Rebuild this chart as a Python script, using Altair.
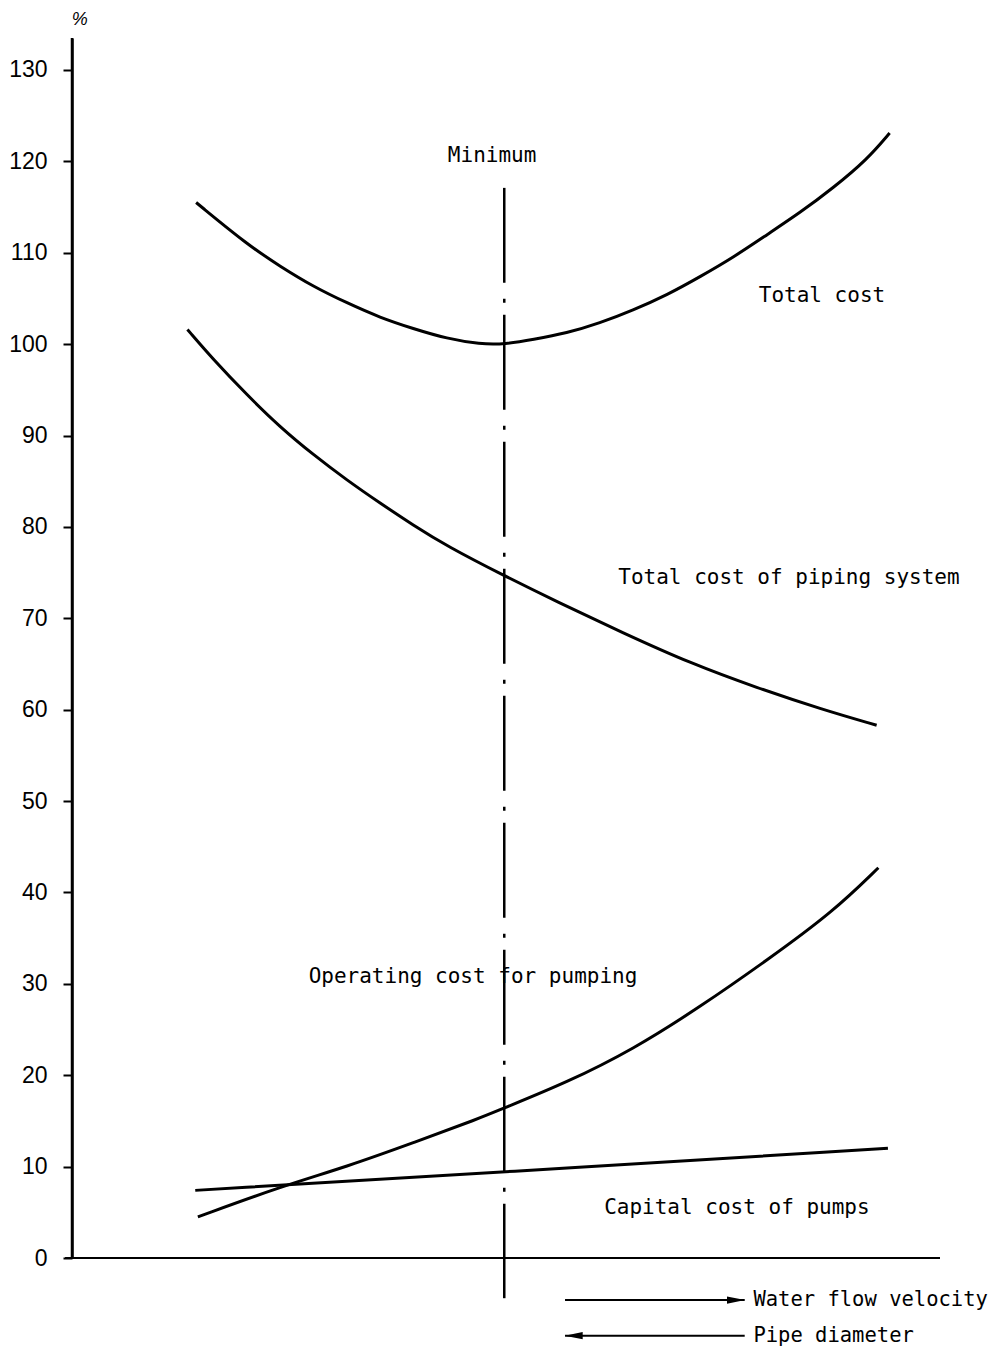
import altair as alt
import pandas as pd

# ---- data (x in arbitrary velocity units 0-100, y in %) ----
total_x = [14.3, 20.2, 24.0, 27.8, 31.7, 35.5, 39.3, 43.2, 47.0, 49.9, 53.1, 57.0,
           60.8, 64.6, 68.6, 72.4, 76.2, 80.1, 83.9, 87.7, 91.6, 94.2]
total_y = [115.5, 110.9, 108.5, 106.3, 104.5, 102.9, 101.7, 100.6, 100.0, 100.0, 100.5, 101.2,
           102.3, 103.7, 105.4, 107.4, 109.5, 112.0, 114.4, 117.1, 120.2, 123.1]

piping_x = [13.3, 16.2, 20.2, 24.0, 27.8, 31.7, 35.5, 39.3, 43.2, 49.7, 55.9, 63.5, 71.2, 78.9, 86.5, 92.7]
piping_y = [101.6, 98.4, 94.4, 90.9, 87.9, 85.1, 82.6, 80.2, 77.9, 74.7, 71.8, 68.4, 65.1, 62.4, 60.0, 58.3]

operating_x = [14.5, 24.0, 31.7, 39.3, 47.0, 49.5, 57.0, 64.6, 72.4, 80.1, 87.7, 92.9]
operating_y = [4.5, 7.8, 10.0, 12.6, 15.3, 16.3, 19.2, 22.8, 27.5, 32.6, 37.9, 42.7]

capital_x = [14.2, 49.5, 94.0]
capital_y = [7.4, 9.4, 12.0]

y_ticks = [0, 10, 20, 30, 40, 50, 60, 70, 80, 90, 100, 110, 120, 130]

minimum_x = 49.8
minimum_y_top = 117.1
minimum_y_bottom = -4.4

label_text = ["Minimum", "Total cost", "Total cost of piping system",
              "Operating cost for pumping", "Capital cost of pumps"]
label_x = [48.4, 86.4, 82.6, 46.2, 76.6]
label_y = [120.6, 105.3, 74.4, 30.75, 5.5]

legend_text = ["Water flow velocity", "Pipe diameter"]
legend_x_start = [56.8, 56.8]
legend_x_end = [77.5, 77.5]
legend_y = [-4.6, -8.5]
legend_label_x = [78.5, 78.5]

FONT = "DejaVu Sans Mono"

xs = alt.Scale(domain=[0, 100], nice=False, zero=False)
ys = alt.Scale(domain=[0, 133.5], nice=False, zero=False)
yax = alt.Axis(
    values=y_ticks, title=None, grid=False, tickSize=9, tickWidth=2,
    tickColor="black", domainColor="black", domainWidth=2.5,
    labelFont="Liberation Sans", labelFontSize=23, labelColor="black",
    labelPadding=16)


def X(field):
    return alt.X(field, type="quantitative", scale=xs, axis=None)


def Y(field):
    return alt.Y(field, type="quantitative", scale=ys, axis=yax)


rows = []
for name, xv, yv in [("total", total_x, total_y), ("piping", piping_x, piping_y),
                     ("operating", operating_x, operating_y), ("capital", capital_x, capital_y)]:
    for i, (a, b) in enumerate(zip(xv, yv)):
        rows.append({"series": name, "x": a, "y": b, "order": i})
curves_df = pd.DataFrame(rows)

curves = alt.Chart(curves_df).mark_line(
    color="black", strokeWidth=3, interpolate="basis", clip=False
).encode(
    x=X("x"), y=Y("y"),
    detail="series:N",
    order="order:Q",
)

# y axis extension to top (axis line above 130)
yaxis_df = pd.DataFrame({"x": [0.0], "y": [0.0], "y2": [133.5]})
yaxis_line = alt.Chart(yaxis_df).mark_rule(color="black", strokeWidth=2.5).encode(
    x=X("x"), y=Y("y"), y2="y2:Q")

# x axis line
xaxis_df = pd.DataFrame({"x": [-0.8], "x2": [100.0], "y": [0.0]})
xaxis_line = alt.Chart(xaxis_df).mark_rule(color="black", strokeWidth=1.8, clip=False).encode(
    x=X("x"), x2="x2:Q", y=Y("y"))

# minimum dash-dot line
min_df = pd.DataFrame({"x": [minimum_x], "y": [minimum_y_top], "y2": [minimum_y_bottom]})
min_line = alt.Chart(min_df).mark_rule(
    color="black", strokeWidth=2.5, strokeDash=[95, 16, 4, 12], clip=False
).encode(x=X("x"), y=Y("y"), y2="y2:Q")

labels_df = pd.DataFrame({"text": label_text, "x": label_x, "y": label_y})
labels = alt.Chart(labels_df).mark_text(
    font=FONT, fontSize=21, color="black", align="center", baseline="middle", clip=False
).encode(x=X("x"), y=Y("y"), text="text:N")

pct_df = pd.DataFrame({"text": ["%"], "x": [0.9], "y": [135.5]})
pct = alt.Chart(pct_df).mark_text(
    font="Liberation Sans", fontSize=18, fontStyle="italic", color="black",
    align="center", baseline="middle", clip=False
).encode(x=X("x"), y=Y("y"), text="text:N")

leg_df = pd.DataFrame({"text": legend_text, "x": legend_x_start, "x2": legend_x_end,
                       "y": legend_y, "lx": legend_label_x})
leg_lines = alt.Chart(leg_df).mark_rule(color="black", strokeWidth=2, clip=False).encode(
    x=X("x"), x2="x2:Q", y=Y("y"))
leg_text = alt.Chart(leg_df).mark_text(
    font=FONT, fontSize=20.5, color="black", align="left", baseline="middle", clip=False
).encode(x=X("lx"), y=Y("y"), text="text:N")

head_r_df = pd.DataFrame({"x": [legend_x_end[0] - 1.0], "y": [legend_y[0]]})
head_r = alt.Chart(head_r_df).mark_point(
    shape="M 1 0 L -1 -0.4 L -1 0.4 Z", size=324, filled=True, color="black",
    opacity=1, clip=False
).encode(x=X("x"), y=Y("y"))

head_l_df = pd.DataFrame({"x": [legend_x_start[1] + 1.0], "y": [legend_y[1]]})
head_l = alt.Chart(head_l_df).mark_point(
    shape="M -1 0 L 1 -0.4 L 1 0.4 Z", size=324, filled=True, color="black",
    opacity=1, clip=False
).encode(x=X("x"), y=Y("y"))

chart = alt.layer(
    yaxis_line, xaxis_line, min_line, curves, labels, pct, leg_lines, leg_text, head_r, head_l
).properties(
    width=868, height=1220,
    autosize=alt.AutoSizeParams(type="none"),
    padding={"left": 64, "top": 30, "right": 52, "bottom": 90},
    background="white",
).configure_view(stroke=None)

chart.save("out.html", embed_options={"renderer": "svg", "actions": False})
